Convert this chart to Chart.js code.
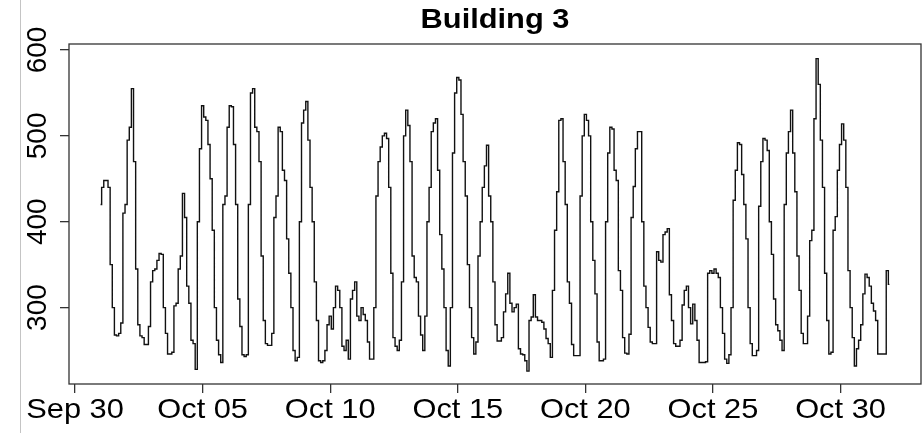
<!DOCTYPE html>
<html>
<head>
<meta charset="utf-8">
<title>Building 3</title>
<script src="https://cdn.jsdelivr.net/npm/chart.js@4/dist/chart.umd.min.js"></script>
<style>
    html, body { margin: 0; padding: 0; background: #fff; }
    #chart { display: block; }
</style>
</head>
<body>
<canvas id="chart" width="923" height="433"></canvas>
<script>
// readings every 2 hours, one array per day, starting Oct 01 00:00
const oct01 = [420, 440, 448, 448, 440, 350, 300, 268, 267, 270, 282, 410];
const oct02 = [420, 495, 510, 555, 470, 345, 280, 267, 265, 257, 257, 278];
const oct03 = [330, 343, 345, 355, 363, 362, 300, 270, 246, 246, 248, 302];
const oct04 = [305, 345, 360, 433, 405, 325, 305, 262, 258, 228, 400, 485];
const oct05 = [535, 522, 518, 490, 450, 390, 300, 262, 245, 236, 420, 430];
const oct06 = [510, 535, 534, 490, 420, 310, 278, 245, 243, 245, 420, 550];
const oct07 = [555, 510, 505, 470, 360, 285, 258, 256, 256, 270, 405, 430];
const oct08 = [510, 505, 460, 448, 380, 340, 300, 250, 238, 242, 400, 515];
const oct09 = [530, 540, 495, 440, 400, 330, 285, 238, 236, 238, 250, 280];
const oct10 = [290, 275, 300, 325, 320, 300, 255, 250, 262, 240, 310, 320];
const oct11 = [330, 290, 285, 300, 292, 285, 260, 240, 240, 300, 430, 470];
const oct12 = [487, 500, 503, 497, 440, 340, 265, 255, 250, 262, 330, 500];
const oct13 = [530, 512, 470, 360, 335, 330, 290, 268, 250, 290, 400, 440];
const oct14 = [505, 515, 520, 460, 385, 345, 300, 250, 232, 300, 480, 550];
const oct15 = [568, 565, 525, 470, 430, 350, 300, 265, 246, 260, 360, 400];
const oct16 = [440, 465, 489, 430, 400, 330, 280, 261, 261, 265, 295, 316];
const oct17 = [340, 305, 295, 300, 304, 252, 246, 245, 238, 226, 285, 289];
const oct18 = [315, 289, 285, 285, 283, 275, 264, 258, 242, 320, 390, 435];
const oct19 = [518, 520, 470, 420, 330, 305, 257, 244, 244, 244, 430, 500];
const oct20 = [525, 518, 500, 400, 355, 316, 260, 238, 238, 240, 400, 480];
const oct21 = [510, 508, 460, 448, 343, 320, 265, 247, 246, 269, 405, 441];
const oct22 = [485, 505, 505, 400, 325, 300, 277, 260, 258, 258, 365, 355];
const oct23 = [353, 385, 388, 392, 315, 285, 258, 255, 255, 262, 303, 320];
const oct24 = [325, 300, 281, 304, 285, 262, 236, 236, 236, 237, 340, 343];
const oct25 = [340, 345, 340, 335, 300, 270, 240, 235, 245, 300, 425, 460];
const oct26 = [492, 490, 455, 420, 380, 300, 258, 244, 244, 250, 418, 470];
const oct27 = [497, 495, 483, 400, 362, 310, 280, 273, 262, 250, 420, 480];
const oct28 = [505, 530, 480, 435, 360, 320, 270, 258, 258, 290, 378, 390];
const oct29 = [520, 590, 560, 495, 440, 340, 285, 246, 248, 390, 406, 460];
const oct30 = [490, 514, 495, 440, 343, 300, 265, 232, 252, 262, 280, 316];
const oct31 = [339, 335, 325, 305, 296, 285, 246, 246, 246, 246, 343, 327];

// x axis is in hours since Oct 01 00:00
const xTickHours = [-24, 96, 216, 336, 456, 576, 696];
const xTickLabels = ['Sep 30', 'Oct 05', 'Oct 10', 'Oct 15', 'Oct 20', 'Oct 25', 'Oct 30'];
const yTicks = [300, 400, 500, 600];
const chartTitle = 'Building 3';

const days = [oct01, oct02, oct03, oct04, oct05, oct06, oct07, oct08, oct09, oct10,
    oct11, oct12, oct13, oct14, oct15, oct16, oct17, oct18, oct19, oct20,
    oct21, oct22, oct23, oct24, oct25, oct26, oct27, oct28, oct29, oct30, oct31];
const readings = days.flat();
const points = readings.map((v, i) => ({ x: i * 2, y: v }));

const INK = '#333';
const FONT = '"Liberation Sans", Arial, sans-serif';

// box, tick labels and title drawn R style
const baseGraphics = {
    id: 'baseGraphics',
    beforeDraw(chart) {
        const ctx = chart.ctx;
        ctx.save();
        ctx.strokeStyle = '#c4c4c4';
        ctx.lineWidth = 1;
        ctx.beginPath();
        ctx.moveTo(20.5, 0);
        ctx.lineTo(20.5, chart.height);
        ctx.stroke();
        ctx.restore();
    },
    afterDraw(chart) {
        const ctx = chart.ctx;
        const area = chart.chartArea;
        const xs = chart.scales.x;
        const ys = chart.scales.y;

        ctx.save();
        ctx.strokeStyle = INK;
        ctx.lineWidth = 1.3;
        ctx.strokeRect(area.left, area.top, area.right - area.left, area.bottom - area.top);

        ctx.fillStyle = '#000';
        ctx.font = '28px ' + FONT;
        ctx.textAlign = 'center';
        ctx.textBaseline = 'alphabetic';

        xTickHours.forEach((h, i) => {
            ctx.save();
            ctx.translate(xs.getPixelForValue(h), 418);
            ctx.scale(1.1, 1);
            ctx.fillText(xTickLabels[i], 0, 0);
            ctx.restore();
        });

        yTicks.forEach(t => {
            ctx.save();
            ctx.translate(46, ys.getPixelForValue(t));
            ctx.rotate(-Math.PI / 2);
            ctx.fillText(String(t), 0, 0);
            ctx.restore();
        });

        ctx.font = 'bold 28px ' + FONT;
        ctx.translate((area.left + area.right) / 2, 28);
        ctx.scale(1.1, 1);
        ctx.fillText(chartTitle, 0, 0);
        ctx.restore();
    }
};

const tickGrid = {
    drawOnChartArea: false,
    drawTicks: true,
    tickLength: 9,
    color: INK,
    lineWidth: 1.3
};

new Chart(document.getElementById('chart').getContext('2d'), {
    type: 'line',
    data: {
        datasets: [{
            label: chartTitle,
            data: points,
            borderColor: '#111',
            borderWidth: 1.4,
            pointRadius: 0,
            stepped: 'middle',
            fill: false
        }]
    },
    options: {
        responsive: false,
        animation: false,
        events: [],
        layout: { padding: { top: 44, right: 2, left: 0, bottom: 0 } },
        plugins: {
            legend: { display: false },
            tooltip: { enabled: false },
            title: { display: false }
        },
        scales: {
            x: {
                type: 'linear',
                min: -29.7,
                max: 771.7,
                afterBuildTicks: scale => { scale.ticks = xTickHours.map(v => ({ value: v })); },
                afterFit: scale => { scale.height = 49; },
                ticks: { display: false },
                grid: tickGrid,
                border: { display: false }
            },
            y: {
                min: 211,
                max: 607,
                afterBuildTicks: scale => { scale.ticks = yTicks.map(v => ({ value: v })); },
                afterFit: scale => { scale.width = 69; },
                ticks: { display: false },
                grid: tickGrid,
                border: { display: false }
            }
        }
    },
    plugins: [baseGraphics]
});
</script>
</body>
</html>
